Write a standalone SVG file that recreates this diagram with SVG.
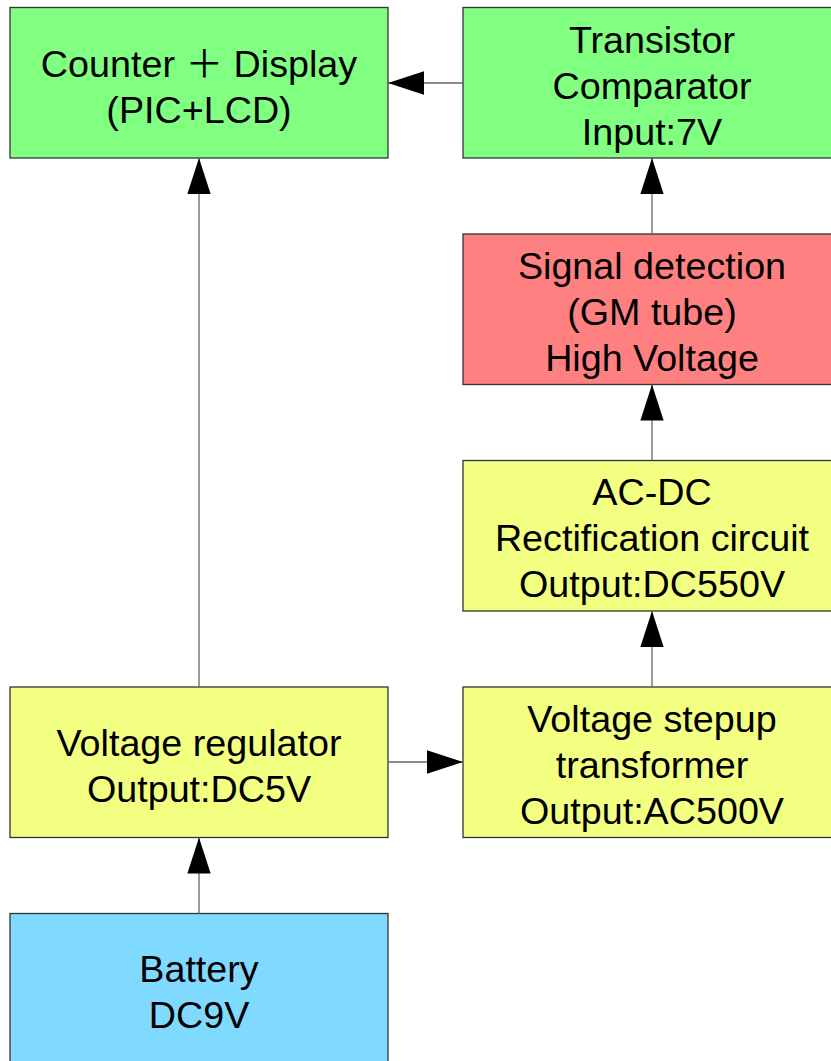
<svg xmlns="http://www.w3.org/2000/svg" width="831" height="1061" viewBox="0 0 831 1061">
<style>
.box{stroke:#333;stroke-width:1.3}
.g{fill:#80ff80}.r{fill:#ff8080}.y{fill:#f2ff80}.b{fill:#80d9ff}
text{font-family:"Liberation Sans","Noto Sans CJK SC",Arial,sans-serif;font-size:37.7px;fill:#000;text-anchor:middle}
.c line{stroke:#666;stroke-width:1.3;marker-end:url(#ah)}
</style>
<defs>
<marker id="ah" markerUnits="userSpaceOnUse" markerWidth="36" markerHeight="24" viewBox="0 0 34 22" refX="34" refY="11" orient="auto">
<path d="M0,0 L34,11 L0,22 Z" fill="#000"/>
</marker>
</defs>
<rect width="831" height="1061" fill="#fff"/>
<g id="counter"><rect class="box g" x="10" y="7.5" width="378" height="150.5"/>
<text x="199" y="77">Counter ＋ Display</text><text x="199" y="123">(PIC+LCD)</text></g>
<g id="comparator"><rect class="box g" x="463" y="7.5" width="378" height="150.5"/>
<text x="652" y="53">Transistor</text><text x="652" y="99">Comparator</text><text x="652" y="145">Input:7V</text></g>
<g id="signal"><rect class="box r" x="463" y="234" width="378" height="150.5"/>
<text x="652" y="279">Signal detection</text><text x="652" y="325">(GM tube)</text><text x="652" y="371">High Voltage</text></g>
<g id="acdc"><rect class="box y" x="463" y="460.5" width="378" height="150.5"/>
<text x="652" y="505">AC-DC</text><text x="652" y="551">Rectification circuit</text><text x="652" y="597">Output:DC550V</text></g>
<g id="stepup"><rect class="box y" x="463" y="687" width="378" height="150.5"/>
<text x="652" y="732">Voltage stepup</text><text x="652" y="778">transformer</text><text x="652" y="824">Output:AC500V</text></g>
<g id="regulator"><rect class="box y" x="10" y="687" width="378" height="150.5"/>
<text x="199" y="755.5">Voltage regulator</text><text x="199" y="801.5">Output:DC5V</text></g>
<g id="battery"><rect class="box b" x="10" y="913.5" width="378" height="150.5"/>
<text x="199" y="982">Battery</text><text x="199" y="1028">DC9V</text></g>
<g id="connectors" class="c">
<line x1="199" y1="687" x2="199" y2="158"/>
<line x1="463" y1="83" x2="388" y2="83"/>
<line x1="652" y1="234" x2="652" y2="158"/>
<line x1="652" y1="460.5" x2="652" y2="384.5"/>
<line x1="652" y1="687" x2="652" y2="611"/>
<line x1="388" y1="762" x2="463" y2="762"/>
<line x1="199" y1="913.5" x2="199" y2="837.5"/>
</g>
</svg>
